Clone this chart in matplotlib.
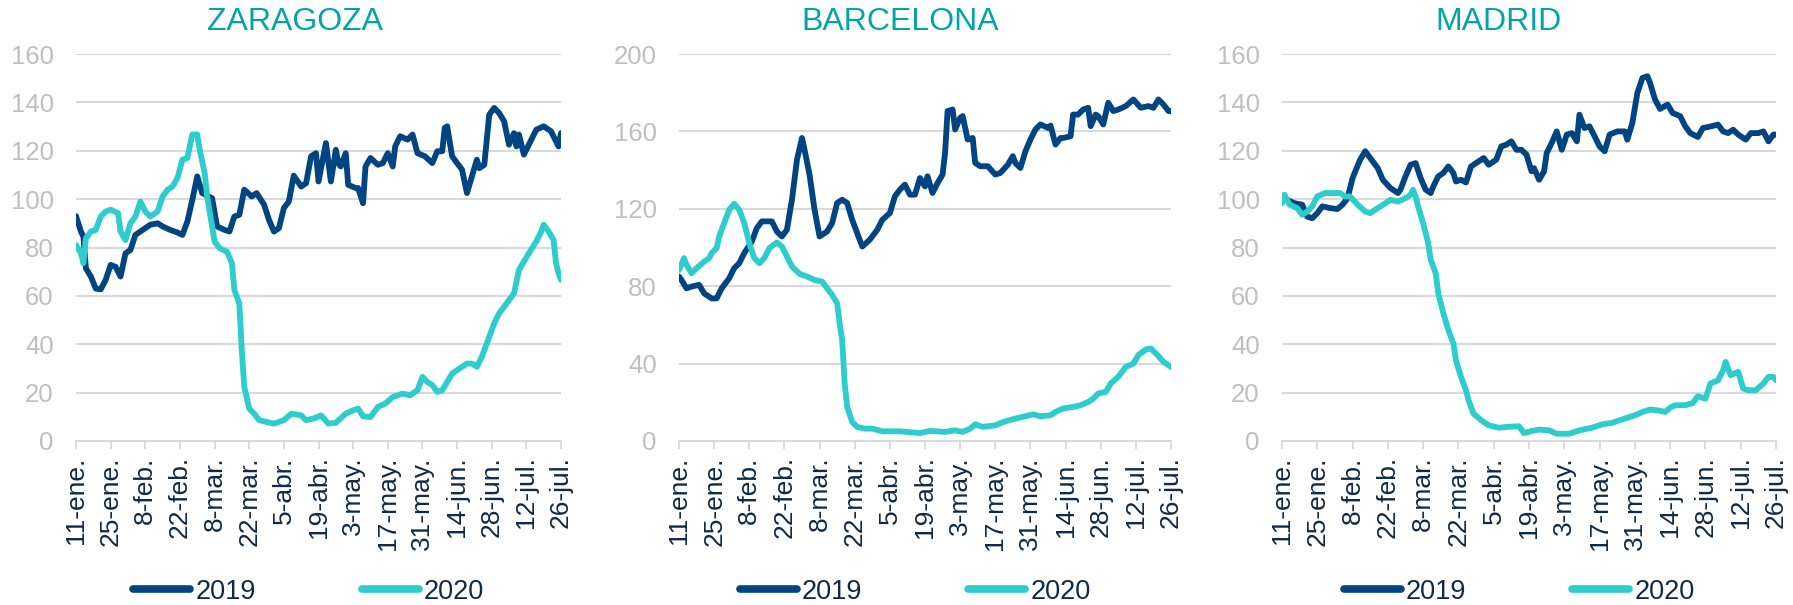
import matplotlib
matplotlib.use("Agg")
import matplotlib.pyplot as plt

# days counted from 11-ene (0) to 26-jul (196)
tick_labels = ["11-ene.", "25-ene.", "8-feb.", "22-feb.", "8-mar.", "22-mar.", "5-abr.",
               "19-abr.", "3-may.", "17-may.", "31-may.", "14-jun.", "28-jun.", "12-jul.", "26-jul."]
tick_days = [0, 14, 28, 42, 56, 70, 84, 98, 112, 126, 140, 154, 168, 182, 196]

cities = ["ZARAGOZA", "BARCELONA", "MADRID"]
y_max = [160, 200, 160]
y_step = [20, 40, 20]

# ZARAGOZA
zgz_2019_day = [0, 2, 3, 4, 6, 8, 10, 12, 14, 16, 18, 20, 22, 24, 27, 30, 33, 35, 38, 41, 43, 45, 47,
                49, 51, 55, 57, 60, 62, 64, 66, 68, 71, 73, 76, 78, 80, 82, 84, 86, 88, 91, 93, 95,
                97, 98, 101, 103, 105, 106, 107, 109, 110, 113, 114, 116, 117, 119, 122, 124, 126,
                128, 129, 131, 134, 136, 138, 141, 144, 146, 148, 149, 150, 152, 154, 156, 158, 160,
                162, 163, 165, 167, 169, 171, 173, 175, 177, 178, 179, 181, 183, 186, 189, 192, 195, 196]
zgz_2019_val = [93, 86.6, 84.5, 71.4, 68, 63, 62.7, 66.6, 72.8, 72, 68, 77.6, 79, 85.2, 87.3, 89.4, 90,
                88.7, 87.3, 86.2, 85.2, 90.7, 99.7, 109.4, 102.5, 100.4, 88.7, 87.3, 86.6, 92.8, 93.5,
                103.9, 101.1, 102.5, 97.7, 91.4, 86.6, 88, 96.3, 99, 109.7, 105.2, 106.6, 117.7, 119,
                107.3, 123.2, 107.3, 120.4, 114.9, 113.5, 119, 105.9, 104.6, 104.6, 98.3, 113.5, 117,
                114.2, 114.9, 119, 113.5, 121.8, 126, 124.6, 126.7, 119, 117.7, 114.9, 119.8, 119.8,
                129.4, 130.1, 117.7, 114.9, 112.2, 102.5, 109.4, 116.3, 112.8, 114.2, 134.9, 137.7,
                135.6, 132.2, 122.5, 127.3, 121.8, 126.7, 118.4, 122.5, 128.7, 130.1, 128, 121.8, 127.3]
zgz_2020_day = [0, 2, 3, 4, 6, 8, 10, 12, 14, 17, 18, 20, 22, 24, 26, 28, 30, 33, 35, 37, 39, 41, 43,
                45, 47, 49, 50, 52, 53, 55, 56, 58, 61, 63, 64, 66, 67, 68, 70, 72, 74, 77, 80, 84,
                87, 91, 93, 96, 99, 102, 105, 109, 112, 114, 116, 119, 122, 125, 128, 132, 135, 138,
                140, 142, 144, 146, 148, 150, 152, 155, 158, 160, 162, 164, 166, 169, 171, 174, 177,
                179, 181, 183, 186, 188, 189, 191, 193, 194, 195, 196]
zgz_2020_val = [81, 77.6, 73.5, 83.8, 86.6, 87.3, 92.8, 94.9, 95.6, 94.2, 86.6, 83.1, 90, 92.8, 99,
                94.9, 92.8, 94.9, 101.1, 103.9, 105.2, 108.7, 116.3, 117, 126.7, 126.7, 120.4, 110.8,
                101.1, 88.7, 82.5, 79.7, 78.3, 73.5, 62.4, 56.9, 37.6, 22.4, 13.4, 11.3, 8.6, 7.9, 7.2,
                8.6, 11.3, 10.6, 8.6, 9.3, 10.6, 7.2, 7.5, 11.3, 12.7, 13.4, 10.2, 9.9, 14.1, 15.5,
                18.2, 19.6, 18.9, 21, 26.5, 24.4, 23.1, 20.3, 21, 24.4, 27.9, 30, 32, 32, 30.7, 34.8,
                40.3, 48.6, 52.8, 56.9, 61, 70.7, 74.2, 77.6, 82.5, 86.6, 89.4, 86.6, 83.1, 73.5,
                69.3, 66.6]

# BARCELONA
bcn_2019_day = [0, 1, 3, 5, 8, 10, 13, 15, 17, 20, 22, 24, 26, 29, 31, 33, 37, 39, 41, 43, 45, 47, 49,
                50, 52, 54, 56, 59, 61, 63, 65, 67, 69, 71, 73, 76, 79, 81, 84, 86, 88, 90, 92, 94,
                96, 98, 99, 101, 103, 105, 106, 107, 109, 110, 112, 113, 115, 117, 118, 120, 123, 126,
                128, 131, 133, 134, 136, 138, 140, 142, 144, 147, 148, 150, 152, 153, 156, 157, 159,
                161, 163, 164, 166, 167, 169, 171, 173, 175, 178, 181, 184, 187, 189, 191, 193, 195, 196]
bcn_2019_val = [85, 83.2, 78.9, 79.8, 80.7, 76.3, 73.7, 73.7, 78.9, 84.1, 89.3, 91.9, 97.1, 103.1, 110,
                113.5, 113.5, 108.3, 105.7, 109.2, 124.7, 145.4, 156.6, 150.6, 137.7, 119.5, 105.7,
                108.3, 112.6, 123, 124.7, 123, 114.3, 107.4, 100.5, 104, 109.2, 114.3, 117.8, 126.4,
                129.9, 132.5, 127.3, 127.3, 135.9, 131.6, 136.8, 128.2, 133.3, 137.7, 148.9, 170.5,
                171.3, 161, 167, 167.9, 155.8, 156.6, 143.7, 142, 142, 137.7, 138.5, 142.8, 147.2,
                143.7, 141.1, 149.7, 155.8, 161, 163.6, 161.8, 163, 153.2, 156.6, 156.6, 157.5, 168.7,
                168.7, 171.3, 172.2, 162.7, 168.7, 167.9, 163.6, 174.8, 170.5, 171.3, 173.1, 176.5,
                172.2, 173.1, 172.2, 176.5, 173.9, 170.5, 170.5]
bcn_2020_day = [0, 2, 3, 5, 7, 10, 12, 13, 15, 16, 18, 20, 22, 24, 26, 28, 30, 32, 34, 36, 39, 41, 43,
                45, 48, 51, 54, 57, 59, 61, 63, 64, 65, 66, 67, 69, 71, 74, 77, 81, 88, 96, 100, 106,
                110, 113, 116, 118, 121, 126, 130, 134, 138, 141, 144, 148, 150, 153, 157, 160, 163,
                165, 167, 170, 172, 175, 178, 181, 183, 186, 188, 191, 193, 196]
bcn_2020_val = [88.4, 94.5, 91, 86.7, 89.3, 92.7, 94.5, 97.1, 99.7, 105.7, 112.6, 119.5, 122.6, 119.5,
                112.6, 102.2, 94.5, 91.9, 94.5, 99.7, 102.6, 100.5, 95.3, 90.2, 86.4, 85, 83.2, 82.4,
                78.9, 75.5, 71.2, 60.8, 52.2, 29.7, 17.6, 9.8, 7.3, 6.4, 6.4, 5, 5, 4.1, 5.2, 4.7, 5.5,
                4.7, 6.4, 8.6, 7.3, 8.1, 10.2, 11.6, 12.8, 13.8, 12.8, 13.3, 15, 16.8, 17.6, 18.5,
                20.2, 21.9, 24.5, 25.4, 29.7, 33.2, 38.3, 40, 44.4, 47.3, 47.8, 43.9, 40.9, 38.3]

# MADRID
mad_2019_day = [0, 2, 5, 8, 10, 12, 14, 16, 19, 22, 24, 26, 28, 31, 33, 35, 38, 40, 43, 45, 46, 47, 49,
                51, 53, 55, 57, 59, 60, 62, 64, 66, 68, 69, 71, 73, 75, 78, 80, 82, 85, 87, 89, 91,
                93, 95, 97, 99, 100, 102, 104, 105, 107, 109, 111, 113, 115, 117, 118, 120, 122, 124,
                126, 128, 130, 133, 136, 137, 139, 141, 143, 145, 146, 148, 150, 153, 155, 158, 160,
                162, 165, 167, 169, 173, 175, 177, 179, 181, 184, 186, 189, 191, 193, 195, 196]
mad_2019_val = [101.1, 99.7, 98.3, 97.7, 92.8, 92.1, 94.2, 97, 96.3, 95.9, 97.7, 100.4, 108.7, 116.3,
                119.8, 117, 112.8, 108, 104.6, 103.2, 102.5, 103.9, 109.4, 114.2, 114.9, 108.7, 103.9,
                102.5, 105.2, 109.4, 110.8, 113.5, 110.8, 107.3, 108, 106.9, 113.5, 115.6, 117, 114.2,
                116.3, 121.8, 122.5, 123.9, 120.4, 120.4, 118.4, 111.5, 112.8, 108, 111.5, 119, 123.2,
                128, 120.4, 126.7, 127.3, 123.9, 134.9, 129.4, 130.1, 126, 121.8, 119.8, 126.7, 128,
                128, 124.6, 131.5, 143.9, 150.1, 150.8, 148.1, 141.2, 137.3, 139.1, 135.6, 134.3,
                130.1, 127.3, 125.7, 129.4, 129.8, 130.8, 128, 127.3, 128.7, 126.7, 124.6, 127.3,
                127.3, 128, 123.9, 126.7, 126.7]
mad_2020_day = [0, 1, 3, 6, 8, 10, 12, 14, 17, 20, 23, 25, 27, 30, 33, 35, 38, 41, 43, 46, 49, 51, 52,
                53, 54, 56, 58, 59, 61, 62, 64, 66, 68, 69, 71, 73, 74, 76, 79, 82, 86, 89, 94, 96,
                99, 102, 106, 109, 114, 118, 123, 127, 131, 136, 140, 143, 146, 149, 152, 154, 156,
                160, 163, 165, 168, 170, 173, 175, 176, 178, 181, 183, 185, 188, 191, 193, 195, 196]
mad_2020_val = [98.3, 101.8, 97.7, 96.3, 93.5, 94.9, 97, 101.1, 102.5, 102.5, 102.5, 101.1, 101.1, 97.7,
                94.9, 94.2, 96.3, 98.3, 99.7, 99, 100.4, 101.8, 103.9, 101.1, 97, 90, 81.8, 74.9, 69.3,
                61, 52.8, 45.9, 40.3, 33.4, 26.5, 21, 16.9, 11.3, 8.6, 6.5, 5.5, 5.8, 6.1, 3.3, 4.1,
                4.7, 4.4, 3, 3, 4.4, 5.5, 6.9, 7.5, 9.3, 10.6, 12, 13, 12.7, 12, 13.8, 14.8, 14.8,
                15.7, 18.5, 17.5, 23.8, 25.1, 29.3, 32.7, 27.2, 28.6, 21.7, 21, 21, 23.8, 26.5, 26.5,
                25.1]

series = [
    (zgz_2019_day, zgz_2019_val, zgz_2020_day, zgz_2020_val),
    (bcn_2019_day, bcn_2019_val, bcn_2020_day, bcn_2020_val),
    (mad_2019_day, mad_2019_val, mad_2020_day, mad_2020_val),
]

c2019 = "#004481"
c2020 = "#2DCCCD"
title_color = "#02A5A5"
grid_color = "#D9D9D9"
ylab_color = "#BFBFBF"
xlab_color = "#0E2A47"

plt.rcParams["font.family"] = ["Liberation Sans", "DejaVu Sans"]

W, H = 1793, 605
fig = plt.figure(figsize=(W / 100, H / 100), dpi=100)

# pixel boxes of the plot areas (left, right); shared top/bottom
panels_px = [(76, 561), (679, 1171), (1282, 1776)]
title_x_px = [295, 900, 1498]
top_px, bottom_px = 54, 441

for i, (x0, x1) in enumerate(panels_px):
    ax = fig.add_axes([x0 / W, 1 - bottom_px / H, (x1 - x0) / W, (bottom_px - top_px) / H])
    d19, v19, d20, v20 = series[i]
    ax.plot(d19, v19, color=c2019, lw=4.2, label="2019",
            solid_joinstyle="round", solid_capstyle="round", zorder=3)
    ax.plot(d20, v20, color=c2020, lw=4.2, label="2020",
            solid_joinstyle="round", solid_capstyle="round", zorder=4)

    ax.set_xlim(0, 196)
    ax.set_ylim(0, y_max[i])
    ax.set_yticks(range(0, y_max[i] + 1, y_step[i]))
    ax.set_xticks(tick_days)
    ax.set_xticklabels(tick_labels, rotation=90, color=xlab_color, fontsize=19)
    ax.tick_params(axis="y", length=0, pad=16, labelsize=18.5, labelcolor=ylab_color)
    ax.tick_params(axis="x", length=6, width=1.3, color=grid_color, pad=5)

    ax.grid(axis="y", color=grid_color, lw=1.5, zorder=0)
    for s in ["top", "right", "left"]:
        ax.spines[s].set_visible(False)
    ax.spines["bottom"].set_color(grid_color)
    ax.spines["bottom"].set_linewidth(1.5)
    ax.set_axisbelow(True)

    fig.text(title_x_px[i] / W, 1 - 22 / H, cities[i], ha="center", va="center",
             fontsize=23, color=title_color)

    leg = ax.legend(loc="center", bbox_to_anchor=(0.48, -0.39), ncol=2, frameon=False,
                    fontsize=19.5, handlelength=2.1, handletextpad=0.2, columnspacing=3.9,
                    labelcolor=xlab_color)
    for h in leg.get_lines():
        h.set_linewidth(5.5)
        h.set_solid_capstyle("round")

fig.savefig("out.png", dpi=100)
